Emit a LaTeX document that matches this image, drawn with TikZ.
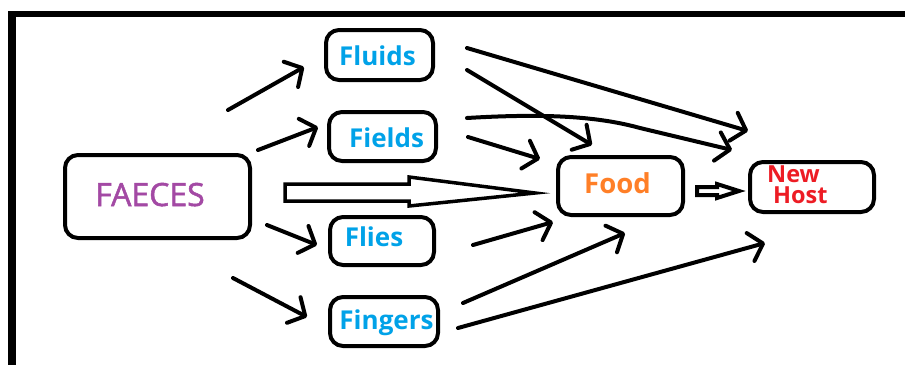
\documentclass[tikz,border=0pt]{standalone}
\usepackage{fontspec}
\setmainfont{Open Sans}
\newfontfamily\faecesfont[FakeBold=1.6]{Open Sans}
\usetikzlibrary{arrows.meta}
\definecolor{cpurple}{HTML}{A349A4}
\definecolor{cblue}{HTML}{00A2E8}
\definecolor{corange}{HTML}{FF7F27}
\definecolor{cred}{HTML}{ED1C24}
\tikzset{
  box/.style={draw, line width=4pt, rounded corners=13pt, inner sep=0pt},
  lbl/.style={anchor=base, inner sep=0pt, font=\fontsize{26}{26}\selectfont\bfseries, text=cblue},
  hostlbl/.style={anchor=base west, inner sep=0pt, font=\fontsize{23.5}{23.5}\selectfont\bfseries, text=cred},
  arr/.style={line width=4pt, line cap=round, -{Straight Barb[length=13pt,width=29pt,line cap=round,round]}},
  blockarr/.style={draw, fill=white, line width=3.5pt, line join=miter}
}
\begin{document}
\begin{tikzpicture}[x=1pt,y=-1pt]
\useasboundingbox (0,0) rectangle (905,365);
\fill[white] (0,0) rectangle (905,365);
% frame
\fill[black] (8,11) rectangle (905,17);
\fill[black] (8,11) rectangle (16,365);
% boxes
\node[box, minimum width=185pt, minimum height=83pt] (faeces) at (157.5,196.5) {};
\node[box, minimum width=107pt, minimum height=50pt] (fluids) at (379.5,55) {};
\node[box, minimum width=107pt, minimum height=49pt] (fields) at (382.5,136.5) {};
\node[box, minimum width=104pt, minimum height=48pt] (flies) at (382,241) {};
\node[box, minimum width=108pt, minimum height=49pt] (fingers) at (384,321.5) {};
\node[box, minimum width=125pt, minimum height=58pt] (food) at (620.5,186) {};
\node[box, minimum width=124pt, minimum height=50pt] (host) at (812,187) {};
% labels
\node[anchor=base, inner sep=0pt, font=\faecesfont\fontsize{32}{32}\selectfont, text=cpurple] (faecesT) at (150,206) {FAECES};
\node[lbl] (fluidsT) at (377.5,65) {Fluids};
\node[lbl] (fieldsT) at (386.5,147) {Fields};
\node[lbl] (fliesT) at (374,246) {Flies};
\node[lbl] (fingersT) at (386.5,329) {Fingers};
\node[lbl, font=\fontsize{27.5}{27.5}\selectfont\bfseries, text=corange] (foodT) at (617.5,193) {Food};
\node[hostlbl] (newT) at (767,182) {New};
\node[hostlbl] (hostT) at (773,203) {Host};
% connector end points
\coordinate (a1s) at (228,110); \coordinate (a1e) at (304,67);
\coordinate (a2s) at (258,150); \coordinate (a2e) at (318,127);
\coordinate (a3s) at (267,225); \coordinate (a3e) at (317,245);
\coordinate (a4s) at (233,278); \coordinate (a4e) at (307,317);
\coordinate (b1s) at (467,48);  \coordinate (b1e) at (748,131);
\coordinate (b2s) at (467,70);  \coordinate (b2e) at (592,145);
\coordinate (cs) at (467,118);  \coordinate (cm) at (640,128); \coordinate (ce) at (732,150);
\coordinate (ds) at (468,137);  \coordinate (de) at (540,159);
\coordinate (es) at (473,245);  \coordinate (ee) at (553,222);
\coordinate (fs) at (463,303);  \coordinate (fe) at (625,233);
\coordinate (gs) at (458,328);  \coordinate (ge) at (765,243);
% arrows from FAECES
\draw[arr] (a1s) -- (a1e);
\draw[arr] (a2s) -- (a2e);
\draw[arr] (a3s) -- (a3e);
\draw[arr] (a4s) -- (a4e);
% arrows to Food / New Host
\draw[arr] (b1s) -- (b1e);
\draw[arr] (b2s) -- (b2e);
\draw[arr] (cs) .. controls (550,113) and (600,117) .. (cm) -- (ce);
\draw[arr] (ds) -- (de);
\draw[arr] (es) -- (ee);
\draw[arr] (fs) -- (fe);
\draw[arr] (gs) -- (ge);
% block arrows
\draw[blockarr] (285,184) -- (409,184) -- (409,177) -- (535,193) -- (409,206) -- (409,201) -- (285,201) -- cycle;
\draw[blockarr, line width=4pt] (697,187) -- (717,187) -- (717,184) -- (739,191) -- (717,198) -- (717,195) -- (697,195) -- cycle;
\end{tikzpicture}
\end{document}
